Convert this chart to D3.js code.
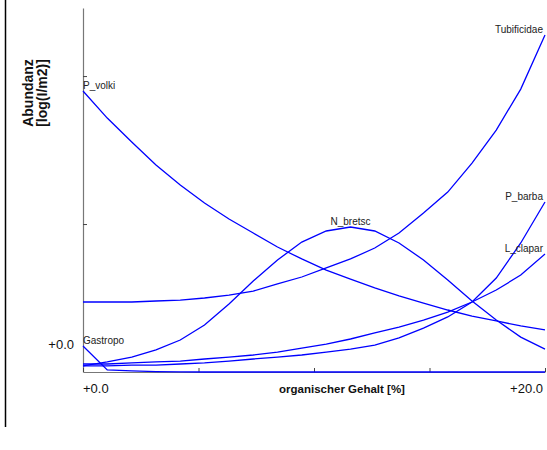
<!DOCTYPE html>
<html>
<head>
<meta charset="utf-8">
<script src="https://cdn.jsdelivr.net/npm/d3@7"></script>
<style>
  body { margin: 0; background: #fff; }
  svg { display: block; font-family: "Liberation Sans", Arial, sans-serif; }
</style>
</head>
<body>
<div id="chart"></div>
<script>
// organic content (%) at which the response curves were evaluated
const gehalt = [0, 1.05, 2.11, 3.16, 4.21, 5.26, 6.32, 7.37, 8.42, 9.47,
                10.53, 11.58, 12.63, 13.68, 14.74, 15.79, 16.84, 17.89, 18.95, 20];

// abundance per taxon (log scale units)
const tubificidae = [0.473, 0.473, 0.473, 0.480, 0.486, 0.500, 0.520, 0.547, 0.595, 0.642,
                     0.703, 0.764, 0.838, 0.939, 1.074, 1.216, 1.412, 1.635, 1.912, 2.277];
const pVolki = [1.899, 1.716, 1.554, 1.399, 1.264, 1.142, 1.034, 0.939, 0.845, 0.764,
                0.689, 0.628, 0.568, 0.514, 0.466, 0.419, 0.378, 0.345, 0.311, 0.284];
const nBretsc = [0.041, 0.068, 0.101, 0.149, 0.216, 0.318, 0.459, 0.615, 0.757, 0.878,
                 0.953, 0.980, 0.953, 0.872, 0.757, 0.622, 0.480, 0.351, 0.236, 0.155];
const pBarba = [0.041, 0.041, 0.047, 0.047, 0.054, 0.061, 0.074, 0.088, 0.101, 0.115,
                0.135, 0.155, 0.182, 0.230, 0.297, 0.372, 0.473, 0.635, 0.872, 1.149];
const lClapar = [0.054, 0.054, 0.061, 0.068, 0.074, 0.088, 0.101, 0.115, 0.135, 0.162,
                 0.189, 0.223, 0.264, 0.304, 0.351, 0.405, 0.473, 0.554, 0.655, 0.797];
const gastropo = [0.176, 0.014, 0.007, 0.003, 0.001, 0, 0, 0, 0, 0,
                  0, 0, 0, 0, 0, 0, 0, 0, 0, 0];

const taxa = [
    { name: "Tubificidae", values: tubificidae },
    { name: "P_volki", values: pVolki },
    { name: "N_bretsc", values: nBretsc },
    { name: "P_barba", values: pBarba },
    { name: "L_clapar", values: lClapar },
    { name: "Gastropo", values: gastropo }
];

const xTicks = [0, 5, 10, 15, 20];
const yTicks = [1, 2];

const width = 547, height = 450;
const plot = { left: 83, right: 545, top: 8, bottom: 372 };

const svg = d3.select("#chart").append("svg")
    .attr("width", width)
    .attr("height", height);

const x = d3.scaleLinear().domain([0, 20]).range([plot.left, plot.right]);
const y = d3.scaleLinear().domain([0, 2.46]).range([plot.bottom, plot.top]);

// outer frame line on the left
svg.append("line")
    .attr("x1", 5.5).attr("x2", 5.5)
    .attr("y1", 0).attr("y2", 427)
    .attr("stroke", "#000")
    .attr("stroke-width", 1.5);

// y axis, ticks pointing inwards
const yAxis = svg.append("g")
    .attr("transform", `translate(${plot.left},0)`)
    .call(d3.axisRight(y).tickValues(yTicks).tickSize(4).tickSizeOuter(0).tickFormat(""));
yAxis.select(".domain").attr("stroke", "#777").attr("stroke-width", 1.2);
yAxis.selectAll(".tick line").attr("stroke", "#444");

// x axis, ticks pointing up
const xAxis = svg.append("g")
    .attr("transform", `translate(0,${plot.bottom})`)
    .call(d3.axisTop(x).tickValues(xTicks).tickSize(4).tickSizeOuter(0).tickFormat(""));
xAxis.select(".domain").attr("stroke", "#777").attr("stroke-width", 1.2);
xAxis.selectAll(".tick line").attr("stroke", "#444");

// tick labels
svg.append("text")
    .attr("x", x(0)).attr("y", 393)
    .attr("font-size", 13)
    .attr("fill", "#111")
    .text("+0.0");
svg.append("text")
    .attr("x", x(20) - 2).attr("y", 393)
    .attr("text-anchor", "end")
    .attr("font-size", 13)
    .attr("fill", "#111")
    .text("+20.0");
svg.append("text")
    .attr("x", 74).attr("y", y(0) - 23)
    .attr("text-anchor", "end")
    .attr("font-size", 13)
    .attr("fill", "#111")
    .text("+0.0");

// axis titles
svg.append("text")
    .attr("x", 342).attr("y", 393)
    .attr("text-anchor", "middle")
    .attr("font-size", 11.5)
    .attr("font-weight", "bold")
    .attr("fill", "#111")
    .text("organischer Gehalt [%]");

const yTitle = svg.append("g")
    .attr("transform", "translate(0,93) rotate(-90)")
    .attr("text-anchor", "middle")
    .attr("font-size", 14)
    .attr("font-weight", "bold")
    .attr("fill", "#111");
yTitle.append("text").attr("x", 0).attr("y", 33).text("Abundanz");
yTitle.append("text").attr("x", 0).attr("y", 47).text("[log(I/m2)]");

// response curves
const line = d3.line()
    .x((d, i) => x(gehalt[i]))
    .y(d => y(d));

svg.append("g")
    .selectAll("path")
    .data(taxa)
    .join("path")
    .attr("d", d => line(d.values))
    .attr("fill", "none")
    .attr("stroke", "#0000ff")
    .attr("stroke-width", 1.3);

// label each curve at its maximum
svg.append("g")
    .attr("font-size", 10)
    .attr("fill", "#222")
    .selectAll("text")
    .data(taxa)
    .join("text")
    .each(function (d) {
        const i = d3.maxIndex(d.values);
        const px = x(gehalt[i]);
        let anchor = "middle";
        if (i === 0) anchor = "start";
        if (i === d.values.length - 1) anchor = "end";
        d3.select(this)
            .attr("x", anchor === "end" ? px - 2 : px)
            .attr("y", y(d.values[i]) - 2)
            .attr("text-anchor", anchor)
            .text(d.name);
    });
</script>
</body>
</html>
